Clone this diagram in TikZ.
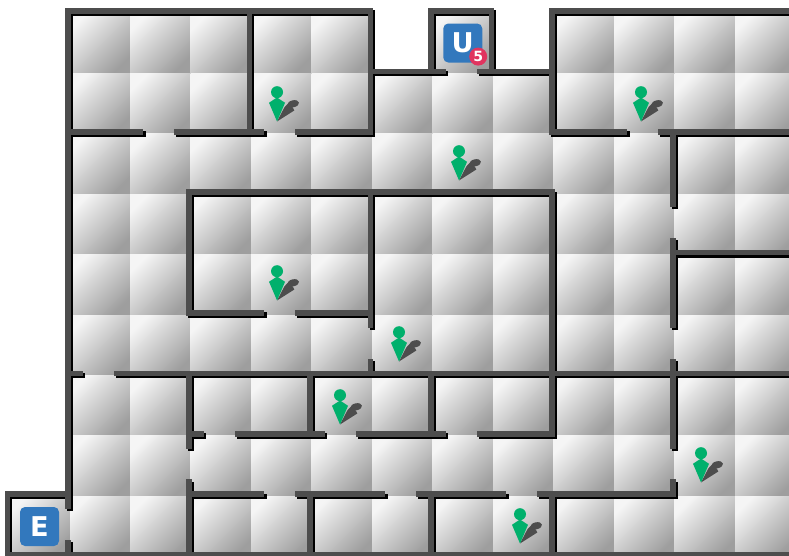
\documentclass[tikz,border=0pt]{standalone}
\usepackage{xcolor}
\usepackage{fontspec}
\setsansfont{DejaVu Sans}
\usepackage{tikz}
\usetikzlibrary{arrows.meta,positioning}
\definecolor{wallgray}{HTML}{4D4D4D}
\definecolor{doorblue}{HTML}{3278BD}
\definecolor{badgered}{HTML}{E0345F}
\definecolor{walkergreen}{HTML}{00B06C}
\newcommand{\mazewalls}{%
  0/0/5/0, 6/0/7/0, 8/0/12/0, 5/1/6.2/1, 6.8/1/8/1,
  0/2/1.2/2, 1.8/2/3.2/2, 3.8/2/5/2, 8/2/9.2/2, 9.8/2/12/2,
  2/3/8/3, 10/4/12/4, 2/5/3.2/5, 3.8/5/5/5,
  0/6/0.2/6, 0.8/6/12/6,
  2/7/2.2/7, 2.8/7/4.2/7, 4.8/7/6.2/7, 6.8/7/8/7,
  -1/8/0/8, 2/8/3.2/8, 3.8/8/5.2/8, 5.8/8/7.2/8, 7.8/8/10/8,
  -1/9/12/9,
  -1/8/-1/9, 0/0/0/8.2, 0/8.8/0/9,
  2/3/2/5, 2/6/2/7.2, 2/7.8/2/9,
  3/0/3/2, 4/6/4/7, 4/8/4/9,
  5/0/5/2, 5/3/5/5.2, 5/5.8/5/6,
  6/0/6/1, 6/6/6/7, 6/8/6/9, 7/0/7/1,
  8/0/8/2, 8/3/8/7, 8/8/8/9,
  10/2/10/3.2, 10/3.8/10/5.2, 10/5.8/10/7.2, 10/7.8/10/8}

\begin{document}
\begin{tikzpicture}[
  x=1.21cm, y=-1.208cm,
  tile/.style={shading=axis, top color=white!96!black, bottom color=black!38!white,
               shading angle=45},
  wall/.style={draw=wallgray, line width=1.1mm, line cap=rect},
  wallshadow/.style={wall, draw=black, xshift=0.44mm, yshift=-0.44mm},
  doorbox/.style={fill=doorblue, rounded corners=1mm, minimum size=7.8mm, inner sep=0pt,
                  text=white, font=\sffamily\bfseries\fontsize{15.5}{15.5}\selectfont},
  countbadge/.style={circle, fill=badgered, minimum size=3.6mm, inner sep=0pt,
                     text=white, font=\sffamily\bfseries\fontsize{8}{8}\selectfont},
  walker/.pic={
    \begin{scope}[x=0.2mm, y=-0.2mm]
      \fill[wallgray] (0,0) -- (7.3,-14) -- (11,-18) -- (15.7,-14) -- (17.3,-11) -- cycle;
      \fill[wallgray, rotate around={12:(16.2,-17.7)}] (16.2,-17.7) ellipse (5.9 and 3.5);
      \fill[walkergreen] (0,0) -- (-8,-18.7) -- (0,-24) -- (8,-18.7) -- cycle;
      \fill[walkergreen] (0,-29.3) circle (6);
    \end{scope}
  }
]
  \path[use as bounding box] (-1.124,-0.182) rectangle (11.917,9.023);
  \foreach \col in {0,...,11}
    \foreach \row in {0,...,8} {
      \ifnum\row=0
        \ifnum\col=5 \else\ifnum\col=7 \else
          \path[tile] (\col+0.025,\row+0.035) rectangle +(1,1);
        \fi\fi
      \else
        \path[tile] (\col+0.025,\row+0.035) rectangle +(1,1);
      \fi
    }
  \path[tile] (-0.975,8.035) rectangle +(1,1);

  \foreach \xa/\ya/\xb/\yb in \mazewalls
    \draw[wallshadow] (\xa,\ya) -- (\xb,\yb);
  \foreach \xa/\ya/\xb/\yb in \mazewalls
    \draw[wall] (\xa,\ya) -- (\xb,\yb);

  \node[doorbox] (U) at (6.525,0.53) {U};
  \node[countbadge] (count) at (6.78,0.755) {5};
  \node[doorbox] (E) at (-0.471,8.535) {E};

  \foreach \tipx/\tipy in {3.455/1.829, 9.471/1.829, 6.463/2.806, 3.455/4.793,
                           5.471/5.803, 4.496/6.846, 10.463/7.806, 7.471/8.816}
    \pic at (\tipx,\tipy) {walker};
\end{tikzpicture}
\end{document}
